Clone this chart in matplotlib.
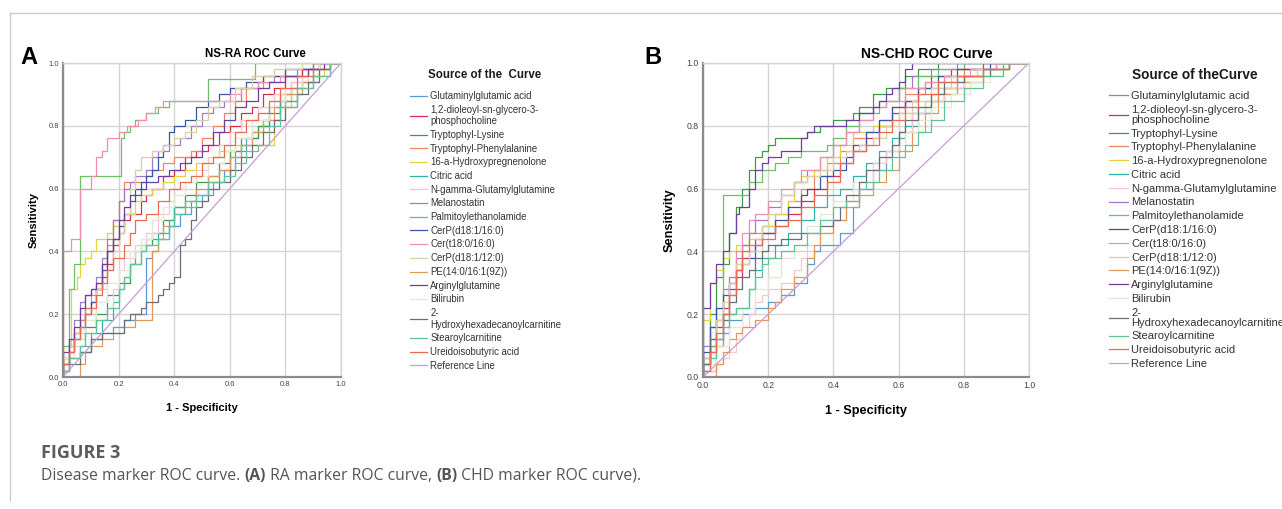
import matplotlib
matplotlib.use("Agg")
import matplotlib.pyplot as plt
from matplotlib.lines import Line2D

plt.rcParams['font.family'] = ['Liberation Sans', 'DejaVu Sans']

W, H = 1282, 509

marker_names = [
    "Glutaminylglutamic acid",
    "1,2-dioleoyl-sn-glycero-3-\nphosphocholine",
    "Tryptophyl-Lysine",
    "Tryptophyl-Phenylalanine",
    "16-a-Hydroxypregnenolone",
    "Citric acid",
    "N-gamma-Glutamylglutamine",
    "Melanostatin",
    "Palmitoylethanolamide",
    "CerP(d18:1/16:0)",
    "Cer(t18:0/16:0)",
    "CerP(d18:1/12:0)",
    "PE(14:0/16:1(9Z))",
    "Arginylglutamine",
    "Bilirubin",
    "2-\nHydroxyhexadecanoylcarnitine",
    "Stearoylcarnitine",
    "Ureidoisobutyric acid",
]
marker_colors = [
    "#5b9bd5", "#d62f4f", "#3f9a49", "#f4845f", "#e6d23a", "#2cb5a5",
    "#f7c6d6", "#a27ac8", "#6cc164", "#3a56a8", "#f28cb1", "#d9cfa6",
    "#e39858", "#6b3fa0", "#e6e6d2", "#6d6d78", "#5fc497", "#ec6a50",
]
ref_color = "#c99bd8"

# ---- NS-RA curves: (1 - specificity, sensitivity) at the end of each flat run
ra_glu = [(0.02,0.02),(0.06,0.06),(0.10,0.08),(0.14,0.12),(0.18,0.14),(0.22,0.16),(0.26,0.18),(0.30,0.20),(0.32,0.38),(0.34,0.40),(0.38,0.44),(0.42,0.48),(0.46,0.52),(0.50,0.56),(0.54,0.58),(0.58,0.62),(0.62,0.66),(0.66,0.72),(0.70,0.76),(0.74,0.80),(0.78,0.86),(0.82,0.90),(0.86,0.94),(0.92,0.98),(1.0,1.0)]
ra_dop = [(0.02,0.06),(0.04,0.10),(0.06,0.14),(0.08,0.18),(0.10,0.22),(0.12,0.24),(0.14,0.28),(0.16,0.32),(0.18,0.36),(0.20,0.42),(0.22,0.46),(0.24,0.50),(0.28,0.52),(0.30,0.56),(0.32,0.58),(0.36,0.60),(0.40,0.64),(0.44,0.66),(0.48,0.70),(0.52,0.72),(0.56,0.74),(0.60,0.78),(0.64,0.80),(0.68,0.84),(0.72,0.86),(0.76,0.90),(0.80,0.92),(0.86,0.96),(0.92,0.98),(1.0,1.0)]
ra_trplys = [(0.02,0.04),(0.04,0.08),(0.08,0.12),(0.12,0.16),(0.16,0.20),(0.20,0.26),(0.24,0.30),(0.28,0.36),(0.32,0.42),(0.36,0.46),(0.40,0.50),(0.44,0.54),(0.48,0.58),(0.52,0.62),(0.56,0.64),(0.60,0.68),(0.64,0.72),(0.70,0.76),(0.74,0.80),(0.78,0.84),(0.82,0.88),(0.86,0.92),(0.90,0.94),(0.96,0.98),(1.0,1.0)]
ra_trpphe = [(0.02,0.04),(0.04,0.10),(0.06,0.14),(0.08,0.18),(0.10,0.22),(0.12,0.26),(0.14,0.30),(0.16,0.36),(0.18,0.42),(0.20,0.50),(0.22,0.56),(0.30,0.62),(0.32,0.64),(0.36,0.66),(0.40,0.68),(0.46,0.70),(0.50,0.72),(0.54,0.76),(0.58,0.80),(0.62,0.84),(0.66,0.88),(0.72,0.92),(0.80,0.96),(0.90,0.98),(1.0,1.0)]
ra_hyd = [(0.03,0.10),(0.05,0.28),(0.06,0.32),(0.08,0.36),(0.10,0.38),(0.12,0.40),(0.16,0.44),(0.18,0.46),(0.22,0.48),(0.26,0.52),(0.28,0.56),(0.32,0.58),(0.36,0.60),(0.40,0.62),(0.44,0.64),(0.48,0.66),(0.52,0.68),(0.56,0.70),(0.62,0.72),(0.70,0.74),(0.76,0.74),(0.78,0.82),(0.82,0.86),(0.86,0.90),(0.90,0.94),(0.94,0.96),(1.0,1.0)]
ra_cit = [(0.02,0.02),(0.06,0.06),(0.10,0.10),(0.14,0.14),(0.18,0.18),(0.20,0.24),(0.22,0.28),(0.24,0.32),(0.26,0.36),(0.30,0.40),(0.34,0.44),(0.38,0.46),(0.40,0.50),(0.44,0.54),(0.48,0.56),(0.52,0.58),(0.56,0.62),(0.60,0.66),(0.64,0.70),(0.68,0.74),(0.72,0.78),(0.78,0.82),(0.84,0.88),(0.90,0.92),(0.96,0.96),(1.0,1.0)]
ra_ngg = [(0.04,0.06),(0.08,0.10),(0.12,0.14),(0.16,0.18),(0.18,0.22),(0.20,0.28),(0.22,0.34),(0.26,0.38),(0.30,0.42),(0.34,0.46),(0.38,0.52),(0.40,0.56),(0.44,0.60),(0.48,0.62),(0.52,0.66),(0.56,0.70),(0.60,0.74),(0.64,0.78),(0.70,0.82),(0.76,0.86),(0.82,0.90),(0.88,0.94),(0.94,0.98),(1.0,1.0)]
ra_mel = [(0.02,0.06),(0.04,0.12),(0.06,0.18),(0.08,0.24),(0.10,0.26),(0.12,0.28),(0.14,0.32),(0.16,0.38),(0.18,0.44),(0.20,0.50),(0.22,0.56),(0.24,0.60),(0.26,0.62),(0.30,0.64),(0.32,0.66),(0.34,0.70),(0.38,0.72),(0.42,0.74),(0.46,0.76),(0.50,0.80),(0.54,0.84),(0.58,0.86),(0.64,0.88),(0.70,0.92),(0.76,0.94),(0.84,0.96),(0.92,0.98),(1.0,1.0)]
ra_pea = [(0.02,0.10),(0.04,0.28),(0.06,0.36),(0.21,0.64),(0.22,0.76),(0.24,0.78),(0.26,0.80),(0.30,0.82),(0.34,0.84),(0.38,0.86),(0.52,0.88),(0.69,0.95),(1.0,1.0)]
ra_cerp16 = [(0.02,0.04),(0.04,0.08),(0.06,0.12),(0.08,0.16),(0.10,0.20),(0.12,0.24),(0.14,0.28),(0.16,0.34),(0.18,0.40),(0.20,0.44),(0.22,0.48),(0.24,0.52),(0.26,0.56),(0.28,0.60),(0.30,0.62),(0.32,0.64),(0.34,0.66),(0.36,0.70),(0.38,0.74),(0.40,0.78),(0.44,0.80),(0.48,0.82),(0.52,0.86),(0.56,0.88),(0.60,0.90),(0.66,0.92),(0.72,0.94),(0.80,0.96),(0.90,0.98),(1.0,1.0)]
ra_cer = [(0.03,0.40),(0.06,0.44),(0.10,0.60),(0.12,0.64),(0.14,0.70),(0.16,0.72),(0.20,0.76),(0.23,0.78),(0.27,0.80),(0.30,0.82),(0.33,0.84),(0.36,0.86),(0.60,0.88),(0.64,0.90),(0.70,0.92),(0.78,0.94),(0.88,0.96),(0.96,0.98),(1.0,1.0)]
ra_cerp12 = [(0.02,0.06),(0.04,0.10),(0.08,0.14),(0.12,0.20),(0.16,0.28),(0.18,0.34),(0.20,0.40),(0.22,0.46),(0.24,0.52),(0.26,0.60),(0.28,0.66),(0.32,0.70),(0.36,0.72),(0.40,0.74),(0.44,0.76),(0.48,0.78),(0.52,0.82),(0.56,0.86),(0.62,0.88),(0.68,0.92),(0.76,0.96),(0.86,0.98),(1.0,1.0)]
ra_pe = [(0.06,0.0),(0.08,0.04),(0.10,0.08),(0.14,0.10),(0.18,0.12),(0.22,0.14),(0.26,0.16),(0.32,0.18),(0.34,0.40),(0.36,0.44),(0.40,0.48),(0.44,0.52),(0.48,0.56),(0.52,0.60),(0.56,0.64),(0.60,0.66),(0.64,0.70),(0.68,0.74),(0.72,0.78),(0.76,0.82),(0.80,0.86),(0.86,0.90),(0.92,0.94),(0.96,0.98),(1.0,1.0)]
ra_arg = [(0.02,0.08),(0.04,0.12),(0.06,0.16),(0.08,0.22),(0.10,0.26),(0.12,0.28),(0.14,0.30),(0.16,0.36),(0.18,0.40),(0.20,0.44),(0.22,0.50),(0.24,0.54),(0.28,0.58),(0.30,0.60),(0.34,0.62),(0.38,0.64),(0.42,0.66),(0.46,0.68),(0.50,0.70),(0.54,0.74),(0.58,0.78),(0.62,0.82),(0.66,0.86),(0.70,0.88),(0.74,0.92),(0.80,0.94),(0.88,0.96),(0.94,0.98),(1.0,1.0)]
ra_bil = [(0.04,0.06),(0.08,0.12),(0.12,0.18),(0.16,0.24),(0.20,0.30),(0.24,0.34),(0.28,0.40),(0.32,0.44),(0.36,0.50),(0.40,0.54),(0.44,0.58),(0.48,0.62),(0.52,0.64),(0.58,0.68),(0.62,0.72),(0.68,0.76),(0.74,0.82),(0.80,0.88),(0.86,0.92),(0.92,0.96),(1.0,1.0)]
ra_hhc = [(0.02,0.02),(0.06,0.04),(0.10,0.08),(0.14,0.12),(0.22,0.14),(0.24,0.18),(0.28,0.20),(0.30,0.22),(0.34,0.24),(0.36,0.26),(0.38,0.28),(0.40,0.30),(0.42,0.32),(0.44,0.42),(0.46,0.44),(0.48,0.50),(0.50,0.54),(0.52,0.56),(0.56,0.60),(0.60,0.62),(0.64,0.66),(0.68,0.70),(0.72,0.74),(0.76,0.78),(0.80,0.82),(0.84,0.86),(0.88,0.90),(0.92,0.94),(0.96,0.98),(1.0,1.0)]
ra_ste = [(0.02,0.02),(0.06,0.06),(0.08,0.10),(0.12,0.14),(0.16,0.18),(0.20,0.22),(0.22,0.28),(0.24,0.32),(0.28,0.36),(0.30,0.40),(0.34,0.42),(0.38,0.44),(0.40,0.48),(0.44,0.52),(0.48,0.54),(0.52,0.58),(0.58,0.62),(0.62,0.64),(0.66,0.68),(0.70,0.72),(0.74,0.74),(0.78,0.80),(0.84,0.86),(0.90,0.92),(0.96,0.96),(1.0,1.0)]
ra_ure = [(0.02,0.04),(0.04,0.08),(0.06,0.12),(0.08,0.16),(0.10,0.20),(0.12,0.22),(0.14,0.26),(0.16,0.30),(0.18,0.34),(0.22,0.38),(0.24,0.42),(0.26,0.46),(0.30,0.50),(0.34,0.52),(0.38,0.56),(0.42,0.60),(0.46,0.62),(0.50,0.64),(0.54,0.68),(0.58,0.70),(0.62,0.74),(0.66,0.78),(0.70,0.82),(0.74,0.84),(0.78,0.88),(0.84,0.92),(0.90,0.96),(1.0,1.0)]

# ---- NS-CHD curves
chd_glu = [(0.02,0.04),(0.04,0.08),(0.06,0.10),(0.08,0.14),(0.12,0.18),(0.16,0.20),(0.20,0.22),(0.24,0.24),(0.28,0.26),(0.32,0.30),(0.34,0.36),(0.36,0.40),(0.42,0.42),(0.46,0.46),(0.48,0.54),(0.52,0.60),(0.56,0.66),(0.60,0.72),(0.64,0.78),(0.68,0.84),(0.72,0.88),(0.78,0.92),(0.86,0.96),(0.94,0.98),(1.0,1.0)]
chd_dop = [(0.02,0.04),(0.04,0.10),(0.06,0.16),(0.08,0.22),(0.10,0.28),(0.12,0.32),(0.14,0.38),(0.16,0.40),(0.18,0.44),(0.22,0.46),(0.26,0.48),(0.30,0.52),(0.34,0.56),(0.38,0.60),(0.42,0.64),(0.46,0.68),(0.50,0.72),(0.54,0.76),(0.58,0.80),(0.62,0.84),(0.66,0.88),(0.70,0.92),(0.76,0.96),(0.86,0.98),(1.0,1.0)]
chd_trplys = [(0.02,0.06),(0.04,0.20),(0.06,0.32),(0.08,0.36),(0.10,0.46),(0.12,0.54),(0.14,0.60),(0.16,0.66),(0.18,0.70),(0.20,0.72),(0.22,0.74),(0.32,0.76),(0.36,0.78),(0.40,0.80),(0.46,0.82),(0.48,0.84),(0.52,0.86),(0.56,0.90),(0.62,0.92),(0.66,0.96),(0.72,0.98),(0.80,1.0),(1.0,1.0)]
chd_trpphe = [(0.04,0.02),(0.06,0.10),(0.08,0.20),(0.10,0.26),(0.12,0.34),(0.14,0.42),(0.18,0.46),(0.22,0.48),(0.26,0.52),(0.30,0.56),(0.34,0.60),(0.38,0.64),(0.42,0.68),(0.46,0.72),(0.50,0.76),(0.54,0.78),(0.58,0.82),(0.62,0.86),(0.68,0.90),(0.74,0.94),(0.80,0.96),(0.90,0.98),(1.0,1.0)]
chd_hyd = [(0.02,0.18),(0.04,0.30),(0.06,0.34),(0.08,0.38),(0.10,0.40),(0.14,0.42),(0.18,0.44),(0.22,0.48),(0.26,0.52),(0.28,0.56),(0.30,0.62),(0.34,0.64),(0.38,0.66),(0.42,0.70),(0.46,0.74),(0.52,0.78),(0.58,0.80),(0.62,0.82),(0.66,0.84),(0.70,0.86),(0.74,0.88),(0.78,0.90),(0.82,0.92),(0.86,0.94),(0.92,0.96),(1.0,1.0)]
chd_cit = [(0.02,0.06),(0.04,0.12),(0.06,0.18),(0.10,0.20),(0.14,0.22),(0.16,0.28),(0.18,0.34),(0.22,0.38),(0.26,0.42),(0.30,0.46),(0.34,0.50),(0.38,0.54),(0.42,0.58),(0.46,0.60),(0.50,0.64),(0.54,0.68),(0.58,0.72),(0.62,0.76),(0.66,0.80),(0.70,0.84),(0.74,0.88),(0.80,0.92),(0.86,0.96),(0.94,0.98),(1.0,1.0)]
chd_ngg = [(0.04,0.02),(0.06,0.04),(0.08,0.06),(0.10,0.08),(0.12,0.12),(0.14,0.16),(0.16,0.20),(0.18,0.24),(0.20,0.26),(0.24,0.28),(0.28,0.30),(0.30,0.34),(0.32,0.38),(0.36,0.42),(0.40,0.46),(0.44,0.50),(0.48,0.56),(0.52,0.62),(0.56,0.68),(0.60,0.72),(0.64,0.78),(0.68,0.84),(0.74,0.88),(0.80,0.92),(0.88,0.96),(1.0,1.0)]
chd_mel = [(0.02,0.10),(0.04,0.16),(0.06,0.22),(0.08,0.28),(0.10,0.32),(0.12,0.38),(0.14,0.42),(0.16,0.46),(0.20,0.50),(0.24,0.54),(0.28,0.58),(0.32,0.62),(0.36,0.66),(0.40,0.70),(0.44,0.74),(0.48,0.78),(0.52,0.82),(0.56,0.86),(0.60,0.88),(0.64,0.92),(0.70,0.96),(0.78,0.98),(1.0,1.0)]
chd_pea = [(0.02,0.04),(0.04,0.10),(0.06,0.18),(0.14,0.58),(0.18,0.62),(0.22,0.66),(0.26,0.68),(0.30,0.70),(0.38,0.72),(0.40,0.74),(0.44,0.76),(0.48,0.80),(0.54,0.84),(0.60,0.88),(0.66,0.92),(0.72,0.96),(0.80,0.98),(0.90,1.0),(1.0,1.0)]
chd_cerp16 = [(0.02,0.08),(0.04,0.16),(0.06,0.22),(0.08,0.26),(0.10,0.30),(0.12,0.34),(0.14,0.36),(0.16,0.38),(0.18,0.42),(0.22,0.46),(0.26,0.50),(0.30,0.54),(0.32,0.58),(0.36,0.60),(0.40,0.64),(0.44,0.66),(0.46,0.70),(0.50,0.74),(0.54,0.78),(0.58,0.82),(0.62,0.86),(0.66,0.88),(0.72,0.92),(0.78,0.96),(0.88,0.98),(1.0,1.0)]
chd_cer = [(0.02,0.02),(0.04,0.06),(0.06,0.12),(0.08,0.20),(0.10,0.30),(0.12,0.40),(0.14,0.46),(0.16,0.50),(0.20,0.52),(0.24,0.56),(0.28,0.60),(0.30,0.62),(0.36,0.66),(0.40,0.70),(0.44,0.74),(0.48,0.78),(0.52,0.82),(0.56,0.86),(0.62,0.88),(0.68,0.92),(0.74,0.94),(0.82,0.96),(0.90,0.98),(1.0,1.0)]
chd_cerp12 = [(0.02,0.06),(0.04,0.12),(0.06,0.18),(0.08,0.24),(0.10,0.30),(0.14,0.36),(0.18,0.40),(0.20,0.48),(0.24,0.52),(0.28,0.58),(0.32,0.62),(0.36,0.64),(0.40,0.66),(0.44,0.70),(0.48,0.72),(0.52,0.74),(0.56,0.76),(0.60,0.80),(0.64,0.84),(0.70,0.88),(0.76,0.92),(0.84,0.96),(0.92,0.98),(1.0,1.0)]
chd_pe = [(0.04,0.0),(0.06,0.04),(0.08,0.08),(0.10,0.12),(0.12,0.14),(0.16,0.16),(0.20,0.18),(0.22,0.22),(0.24,0.24),(0.28,0.28),(0.32,0.32),(0.34,0.38),(0.36,0.42),(0.40,0.46),(0.44,0.50),(0.48,0.54),(0.52,0.58),(0.56,0.62),(0.60,0.66),(0.64,0.72),(0.68,0.78),(0.72,0.84),(0.78,0.90),(0.86,0.94),(0.94,0.98),(1.0,1.0)]
chd_arg = [(0.02,0.22),(0.04,0.30),(0.06,0.36),(0.08,0.40),(0.10,0.46),(0.11,0.52),(0.14,0.54),(0.16,0.60),(0.18,0.66),(0.20,0.68),(0.24,0.70),(0.30,0.72),(0.32,0.76),(0.34,0.78),(0.44,0.80),(0.48,0.82),(0.52,0.84),(0.54,0.86),(0.56,0.88),(0.58,0.90),(0.60,0.92),(0.62,0.94),(0.64,0.98),(0.80,1.0),(1.0,1.0)]
chd_bil = [(0.04,0.04),(0.08,0.10),(0.12,0.16),(0.16,0.22),(0.20,0.28),(0.24,0.32),(0.28,0.38),(0.32,0.42),(0.36,0.48),(0.40,0.52),(0.46,0.56),(0.50,0.62),(0.54,0.66),(0.58,0.70),(0.62,0.74),(0.66,0.78),(0.70,0.82),(0.76,0.86),(0.82,0.90),(0.88,0.94),(0.94,0.98),(1.0,1.0)]
chd_hhc = [(0.02,0.04),(0.06,0.12),(0.08,0.18),(0.10,0.24),(0.12,0.28),(0.14,0.32),(0.16,0.34),(0.18,0.38),(0.20,0.40),(0.24,0.42),(0.30,0.44),(0.36,0.46),(0.40,0.48),(0.42,0.50),(0.44,0.54),(0.48,0.58),(0.50,0.62),(0.54,0.66),(0.58,0.70),(0.60,0.74),(0.62,0.78),(0.66,0.82),(0.70,0.86),(0.74,0.90),(0.80,0.94),(0.88,0.96),(0.94,0.98),(1.0,1.0)]
chd_ste = [(0.02,0.02),(0.04,0.06),(0.06,0.12),(0.08,0.16),(0.10,0.20),(0.14,0.22),(0.16,0.28),(0.18,0.32),(0.20,0.36),(0.24,0.38),(0.28,0.40),(0.32,0.42),(0.36,0.46),(0.40,0.50),(0.44,0.54),(0.48,0.56),(0.50,0.60),(0.54,0.62),(0.58,0.66),(0.62,0.70),(0.66,0.74),(0.70,0.78),(0.74,0.82),(0.80,0.88),(0.86,0.92),(0.92,0.96),(1.0,1.0)]
chd_ure = [(0.02,0.02),(0.04,0.08),(0.06,0.14),(0.08,0.20),(0.10,0.26),(0.12,0.34),(0.14,0.40),(0.18,0.42),(0.22,0.44),(0.26,0.48),(0.30,0.50),(0.34,0.54),(0.38,0.58),(0.42,0.62),(0.46,0.68),(0.50,0.72),(0.54,0.74),(0.58,0.78),(0.62,0.82),(0.66,0.86),(0.72,0.90),(0.78,0.94),(0.86,0.96),(0.94,0.98),(1.0,1.0)]

ra_curves = [ra_glu, ra_dop, ra_trplys, ra_trpphe, ra_hyd, ra_cit, ra_ngg, ra_mel, ra_pea,
             ra_cerp16, ra_cer, ra_cerp12, ra_pe, ra_arg, ra_bil, ra_hhc, ra_ste, ra_ure]
chd_curves = [chd_glu, chd_dop, chd_trplys, chd_trpphe, chd_hyd, chd_cit, chd_ngg, chd_mel, chd_pea,
              chd_cerp16, chd_cer, chd_cerp12, chd_pe, chd_arg, chd_bil, chd_hhc, chd_ste, chd_ure]
tick_vals = [0.0, 0.2, 0.4, 0.6, 0.8, 1.0]


fig = plt.figure(figsize=(W / 100, H / 100), dpi=100)


def px_axes(x0, y0, x1, y1):
    return fig.add_axes([x0 / W, 1 - y1 / H, (x1 - x0) / W, (y1 - y0) / H])


def draw_roc(ax, curves, scale):
    for pts, col, name in zip(curves, marker_colors, marker_names):
        xs = [0.0] + [p[0] for p in pts]
        ys = [0.0] + [p[1] for p in pts]
        ax.plot(xs, ys, drawstyle='steps-pre', color=col, lw=0.9, label=name)
    ax.plot([0, 1], [0, 1], color=ref_color, lw=0.9, label='Reference Line')
    ax.set_xlim(0, 1)
    ax.set_ylim(0, 1)
    ax.set_xticks(tick_vals)
    ax.set_yticks(tick_vals)
    ax.set_xticklabels(['%.1f' % t for t in tick_vals])
    ax.set_yticklabels(['%.1f' % t for t in tick_vals])
    ax.grid(color='#d4d4d4', lw=1.0)
    ax.set_axisbelow(True)
    ax.tick_params(length=0, labelsize=5.5 * scale, labelcolor='#444444', pad=3)
    for s in ['top', 'right']:
        ax.spines[s].set_color('#d4d4d4')
        ax.spines[s].set_linewidth(1.0)
    for s in ['left', 'bottom']:
        ax.spines[s].set_color('#8c8c8c')
        ax.spines[s].set_linewidth(1.6)
    ax.set_xlabel('1 - Specificity', fontsize=8 * scale, fontweight='bold', labelpad=11)
    ax.set_ylabel('Sensitivity', fontsize=8 * scale, fontweight='bold', labelpad=7 * scale)


def add_legend(ax, x_px, top_px, size, spacing, linesp, hlen, title, title_x, title_size):
    h, l = ax.get_legend_handles_labels()
    leg = ax.legend(h, l, loc='upper left', bbox_to_anchor=(x_px / W, 1 - top_px / H),
                    bbox_transform=fig.transFigure, frameon=False, borderpad=0,
                    borderaxespad=0, handlelength=hlen, handletextpad=0.3,
                    labelspacing=spacing, fontsize=size)
    for t in leg.get_texts():
        t.set_color('#333333')
        t.set_linespacing(linesp)
    fig.text(title_x / W, 1 - 75 / H, title, ha='center', va='center',
             fontsize=title_size, fontweight='bold', color='#1a1a1a')


ax_a = px_axes(63, 63, 341, 377)
draw_roc(ax_a, ra_curves, 1.0)
ax_b = px_axes(703, 63, 1029, 377)
draw_roc(ax_b, chd_curves, 1.15)

fig.text(255 / W, 1 - 54 / H, 'NS-RA ROC Curve', ha='center', va='center', fontsize=8.3, fontweight='bold')
fig.text(927 / W, 1 - 54 / H, 'NS-CHD ROC Curve', ha='center', va='center', fontsize=10.0, fontweight='bold')
fig.text(29 / W, 1 - 58 / H, 'A', ha='center', va='center', fontsize=17, fontweight='bold')
fig.text(653 / W, 1 - 58 / H, 'B', ha='center', va='center', fontsize=17, fontweight='bold')

add_legend(ax_a, 410, 91, 6.9, 0.385, 1.2, 1.8, 'Source of the  Curve', 485, 8.3)
add_legend(ax_b, 1109, 91, 8.0, 0.34, 1.0, 1.7, 'Source of theCurve', 1195, 9.8)

# figure frame lines
fig.add_artist(Line2D([10 / W, 1.0], [1 - 13 / H, 1 - 13 / H], transform=fig.transFigure,
                      color='#cccccc', lw=1.0))
fig.add_artist(Line2D([10 / W, 10 / W], [1 - 13 / H, 1 - 500 / H], transform=fig.transFigure,
                      color='#cccccc', lw=1.0))

# caption
cap_font = ['Open Sans', 'DejaVu Sans']
fig.text(41 / W, 1 - 453 / H, 'FIGURE 3', ha='left', va='center', fontsize=13,
         fontweight='bold', color='#5c5c5c', family=cap_font)

renderer = fig.canvas.get_renderer()
parts = [('Disease marker ROC curve. ', 'normal'), ('(A)', 'bold'),
         (' RA marker ROC curve, ', 'normal'), ('(B)', 'bold'),
         (' CHD marker ROC curve).', 'normal')]
x = 41 / W
for s, wt in parts:
    t = fig.text(x, 1 - 476 / H, s, ha='left', va='center', fontsize=11.3,
                 fontweight=wt, color='#555555', family=cap_font)
    bb = t.get_window_extent(renderer)
    x += bb.width / W

fig.savefig('out.png', dpi=100)
